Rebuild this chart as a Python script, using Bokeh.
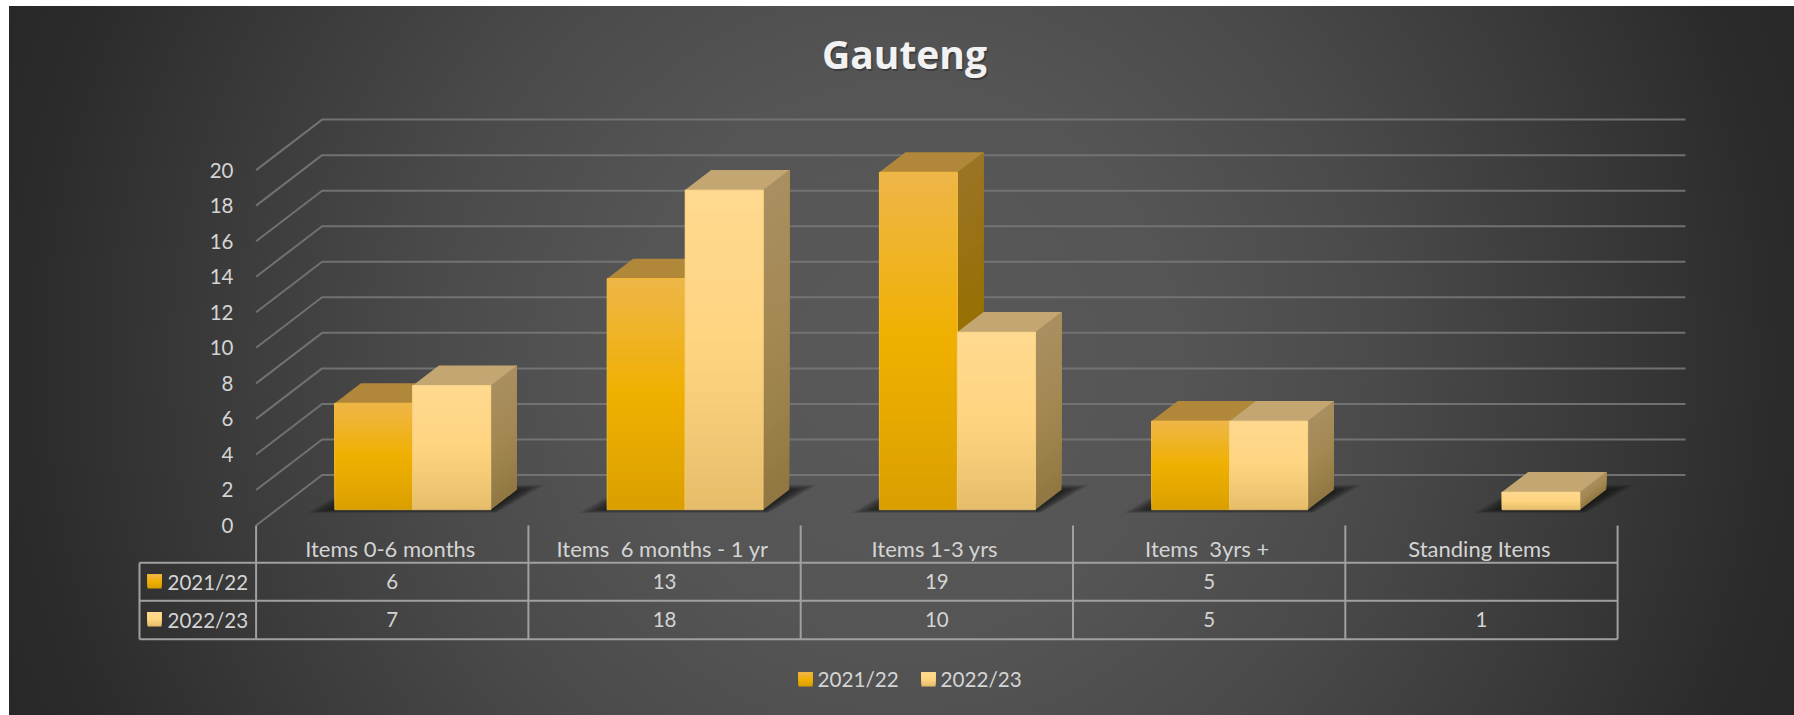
from bokeh.plotting import figure
from bokeh.models import Range1d
from bokeh.core.properties import value
from bokeh.embed import file_html
from bokeh.resources import INLINE

title_text = "Gauteng"
categories = ["Items 0-6 months", "Items  6 months - 1 yr", "Items 1-3 yrs", "Items  3yrs +", "Standing Items"]
series_names = ["2021/22", "2022/23"]
series_2021_22 = [6, 13, 19, 5, None]
series_2022_23 = [7, 18, 10, 5, 1]
y_ticks = [0, 2, 4, 6, 8, 10, 12, 14, 16, 18, 20]

W, H = 1785, 709
LEFT_PX, TOP_PX = 9, 6
ORG_X, ORG_Y = 255.6, 525.0      # page px of category 0 / value 0 on the front floor edge
CAT_PX, VAL_PX = 272.3, 17.77
DEPTH_DX, DEPTH_DY = 66.0, 50.5
D0, D1 = 0.311, 0.707            # bar footprint in depth
BAR_OFF, BAR_W = 0.2135, 0.2865
GRID_END_PX = 1685.0


def xd(px):
    return (px - ORG_X) / CAT_PX


def yd(py):
    return (ORG_Y - py) / VAL_PX


def cx(x, d=0.0):
    return x + d * DEPTH_DX / CAT_PX


def cy(v, d=0.0):
    return v + d * DEPTH_DY / VAL_PX


def hexrgb(h):
    return tuple(int(h[i:i + 2], 16) for i in (1, 3, 5))


def ramp(stops, t):
    for (t0, c0), (t1, c1) in zip(stops, stops[1:]):
        if t <= t1:
            f = (t - t0) / (t1 - t0)
            a, b = hexrgb(c0), hexrgb(c1)
            return "#%02x%02x%02x" % tuple(round(a[i] + (b[i] - a[i]) * f) for i in range(3))
    return stops[-1][1]


STYLES = [
    dict(front=[(0, "#dba000"), (0.5, "#f0b000"), (1, "#eeb646")],
         side=[(0, "#8c6800"), (0.5, "#976f02"), (1, "#9a7424")],
         top="#b1883a", edge="#f2bb3c"),
    dict(front=[(0, "#e6be6b"), (0.5, "#ffd480"), (1, "#ffd98f")],
         side=[(0, "#917842"), (0.5, "#a38853"), (1, "#a98f60")],
         top="#c3a672", edge="#f3cd80"),
]

bg = ("radial-gradient(circle at 50% 50%, #595959 0px, #555555 280px, #4a4a4a 480px, "
      "#3b3b3b 680px, #2b2b2b 880px, #262626 1000px)")

p = figure(width=W, height=H, output_backend="svg", toolbar_location=None,
           x_range=Range1d(xd(LEFT_PX), xd(LEFT_PX + W)),
           y_range=Range1d(yd(TOP_PX + H), yd(TOP_PX)),
           min_border=0, outline_line_color=None,
           background_fill_color=None, border_fill_color=None,
           margin=(6, 0, 0, 9), styles={"background": bg})
p.axis.visible = False
p.grid.visible = False

# walls: every gridline runs from the front left edge to the back wall and along it
gx, gy = [], []
for t in y_ticks:
    gx.append([cx(0), cx(0, 1), xd(GRID_END_PX)])
    gy.append([cy(t), cy(t, 1), cy(t, 1)])
p.multi_line(gx, gy, line_color="#777777", line_width=2, line_alpha=0.9)

# soft floor shadows
sx, sy = [], []
LAYERS = 24
for i in range(len(categories)):
    present = [s for s, vals in enumerate((series_2021_22, series_2022_23)) if vals[i] is not None]
    L = i + BAR_OFF + present[0] * BAR_W
    R = i + BAR_OFF + (present[-1] + 1) * BAR_W
    for k in range(LAYERS):
        f = 1 - k / LAYERS
        ex = (38 * f - 10) / CAT_PX
        up, down = (8 * f - 3) / VAL_PX, (5 * f - 2) / VAL_PX
        sx.append([cx(L, D0) - ex, cx(R, D0) + ex * 0.2, cx(R, D1) + ex, cx(L, D1) - ex * 0.2])
        sy.append([cy(0, D0) - down, cy(0, D0) - down, cy(0, D1) + up, cy(0, D1) + up])
p.patches(sx, sy, fill_color="#0c0c0c", fill_alpha=0.06, line_color=None)

# 3-D bars
N = 30
for s, vals in enumerate((series_2021_22, series_2022_23)):
    st = STYLES[s]
    xs, ys, cs = [], [], []
    ox, oy = [], []
    for i, v in enumerate(vals):
        if v is None:
            continue
        x0 = i + BAR_OFF + s * BAR_W
        x1 = x0 + BAR_W
        # side face
        for k in range(N):
            lo = v * k / N
            xs.append([cx(x1, D0), cx(x1, D1), cx(x1, D1), cx(x1, D0)])
            ys.append([cy(lo, D0), cy(lo, D1), cy(v, D1), cy(v, D0)])
            cs.append(ramp(st["side"], k / (N - 1)))
        # top face
        xs.append([cx(x0, D0), cx(x1, D0), cx(x1, D1), cx(x0, D1)])
        ys.append([cy(v, D0), cy(v, D0), cy(v, D1), cy(v, D1)])
        cs.append(st["top"])
        # front face
        for k in range(N):
            lo = v * k / N
            xs.append([cx(x0, D0), cx(x1, D0), cx(x1, D0), cx(x0, D0)])
            ys.append([cy(lo, D0), cy(lo, D0), cy(v, D0), cy(v, D0)])
            cs.append(ramp(st["front"], k / (N - 1)))
        ox.append([cx(x0, D0), cx(x1, D0), cx(x1, D0), cx(x0, D0), cx(x0, D0)])
        oy.append([cy(0, D0), cy(0, D0), cy(v, D0), cy(v, D0), cy(0, D0)])
    p.patches(xs, ys, fill_color=cs, line_color=None)
    p.multi_line(ox, oy, line_color=st["edge"], line_width=1, line_alpha=0.7)

# data table lines
TBL_TOP, TBL_MID, TBL_BOT = 562.3, 600.3, 638.7
TBL_LEFT = 139.0
tx, ty = [], []
n = len(categories)
for py in (TBL_TOP, TBL_MID, TBL_BOT):
    tx.append([xd(TBL_LEFT), n])
    ty.append([yd(py), yd(py)])
for i in range(n + 1):
    tx.append([i, i])
    ty.append([0, yd(TBL_BOT)])
tx.append([xd(TBL_LEFT), xd(TBL_LEFT)])
ty.append([yd(TBL_TOP), yd(TBL_BOT)])
p.multi_line(tx, ty, line_color="#a0a0a0", line_width=2)

FONT = value("Lato")
TEXT = "#d4d4d4"


def label(x, y, text, size, align="center", color=TEXT, font=FONT, style="normal", alpha=1.0):
    p.text([x], [y], text=[text], text_font=font, text_font_size=f"{size}px",
           text_color=color, text_align=align, text_baseline="middle",
           text_font_style=style, text_alpha=alpha)


# value axis labels
for t in y_ticks:
    label(xd(233), t, str(t), 20.5, align="right")

# table texts
for i, c in enumerate(categories):
    label(i + 0.5 - (2 / CAT_PX), yd(548), c.replace("  ", "\u00a0 "), 22)
    for py, vals in ((581, series_2021_22), (619, series_2022_23)):
        if vals[i] is not None:
            label(i + 0.5, yd(py), str(vals[i]), 20.5)


def swatch(px0, py0, s):
    st = STYLES[s]
    xs, ys, cs = [], [], []
    M = 10
    for k in range(M):
        lo = py0 + 14 - 14 * k / M
        xs.append([xd(px0), xd(px0 + 14), xd(px0 + 14), xd(px0)])
        ys.append([yd(lo), yd(lo), yd(py0), yd(py0)])
        cs.append(ramp(st["front"], k / (M - 1)))
    p.patches(xs, ys, fill_color=cs, line_color=None)


for s, py in enumerate((574, 612)):
    swatch(147, py, s)
    label(xd(167), yd(py + 7), series_names[s], 20.5, align="left")

# legend
for s, (sw, tx0) in enumerate(((798, 817), (921, 940))):
    swatch(sw, 672, s)
    label(xd(tx0), yd(678), series_names[s], 20.7, align="left")

# title
label(xd(904) + 1.5 / CAT_PX, yd(53) - 2 / VAL_PX, title_text, 39, color="#202020",
      font=value("Open Sans"), style="bold", alpha=0.45)
label(xd(904), yd(53), title_text, 39, color="#f2f2f2", font=value("Open Sans"), style="bold")

open("out.html", "w").write(file_html(p, INLINE))
